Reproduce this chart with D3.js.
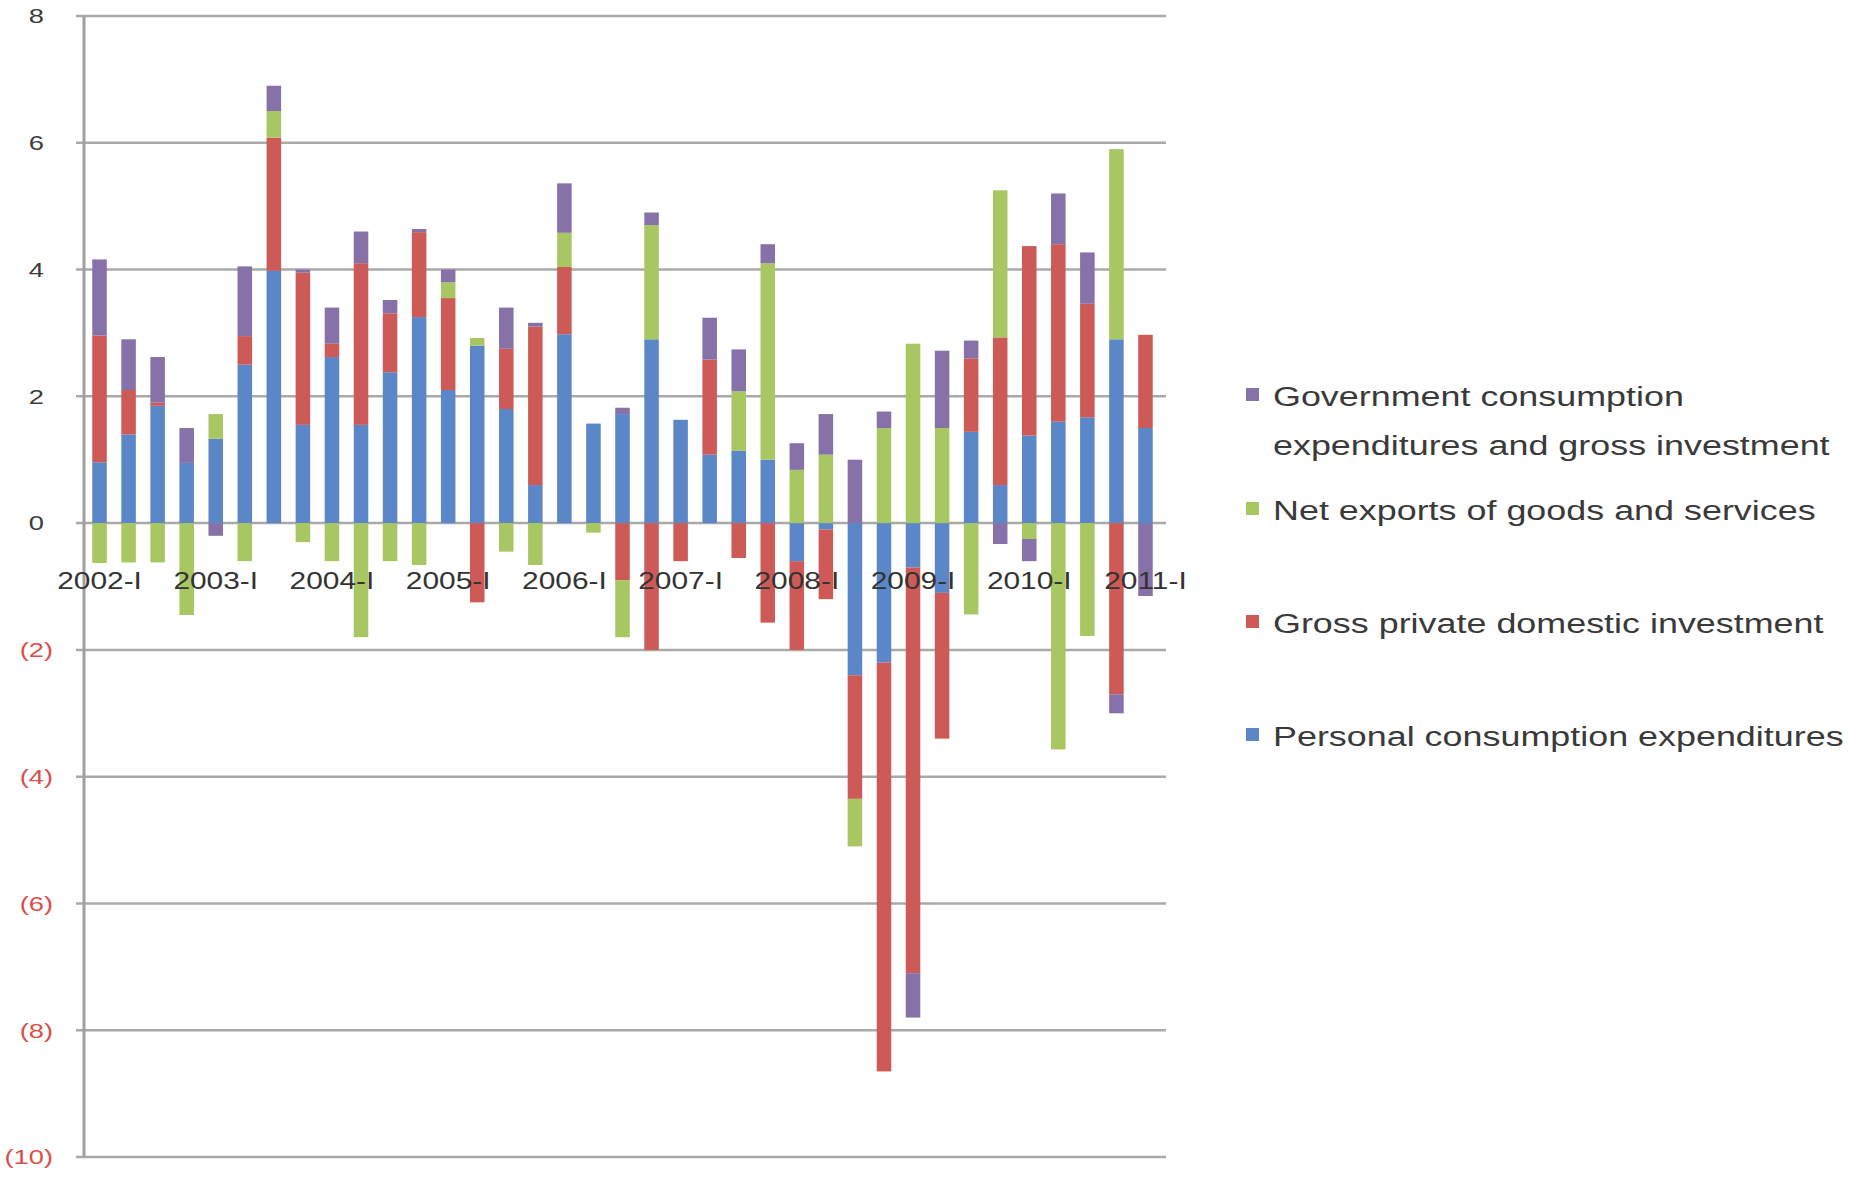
<!DOCTYPE html>
<html>
<head>
<meta charset="utf-8">
<script src="https://cdn.jsdelivr.net/npm/d3@7/dist/d3.min.js"></script>
<style>
  html, body { margin: 0; padding: 0; background: #ffffff; }
  svg { display: block; font-family: "Liberation Sans", Arial, sans-serif; }
</style>
</head>
<body>
<svg id="chart" width="1851" height="1181"></svg>
<script>
const quarters = [
  "2002-I","2002-II","2002-III","2002-IV",
  "2003-I","2003-II","2003-III","2003-IV",
  "2004-I","2004-II","2004-III","2004-IV",
  "2005-I","2005-II","2005-III","2005-IV",
  "2006-I","2006-II","2006-III","2006-IV",
  "2007-I","2007-II","2007-III","2007-IV",
  "2008-I","2008-II","2008-III","2008-IV",
  "2009-I","2009-II","2009-III","2009-IV",
  "2010-I","2010-II","2010-III","2010-IV",
  "2011-I"
];
const tickLabels = ["2002-I","2003-I","2004-I","2005-I","2006-I","2007-I","2008-I","2009-I","2010-I","2011-I"];
const yTicks = [8, 6, 4, 2, 0, -2, -4, -6, -8, -10];

const seriesNames = [
  "Personal consumption expenditures",
  "Gross private domestic investment",
  "Net exports of goods and services",
  "Government consumption expenditures and gross investment"
];
const personalConsumption = [0.96,1.4,1.85,0.95,1.33,2.5,3.98,1.55,2.62,1.55,2.38,3.25,2.1,2.8,1.8,0.6,2.98,1.57,1.72,2.9,1.63,1.08,1.14,1.0,-0.6,-0.1,-2.4,-2.2,-0.7,-1.1,1.44,0.6,1.38,1.6,1.67,2.9,1.5];
const grossPrivateInvestment = [2.0,0.7,0.05,0,0,0.45,2.1,2.4,0.21,2.55,0.93,1.34,1.45,-1.25,0.95,2.5,1.06,0,-0.9,-2.0,-0.6,1.5,-0.55,-1.57,-1.4,-1.1,-1.95,-6.45,-6.4,-2.3,1.16,2.33,2.99,2.8,1.79,-2.7,1.47];
const netExports = [-0.63,-0.62,-0.62,-1.45,0.39,-0.6,0.42,-0.3,-0.6,-1.8,-0.6,-0.66,0.25,0.12,-0.45,-0.66,0.54,-0.15,-0.9,1.8,0,0,0.94,3.1,0.84,1.08,-0.75,1.5,2.83,1.5,-1.44,2.32,-0.25,-3.57,-1.78,3.0,0];
const government = [1.2,0.8,0.72,0.55,-0.2,1.1,0.4,0.05,0.57,0.5,0.21,0.05,0.2,0,0.65,0.06,0.78,0,0.1,0.2,0,0.66,0.66,0.3,0.42,0.64,1.0,0.26,-0.7,1.22,0.28,-0.33,-0.35,0.8,0.81,-0.3,-1.15];

const colors = ["#5b86c8", "#cd5a57", "#a8c662", "#8672a8"];
const keys = ["pce", "gpdi", "netx", "gov"];
const table = quarters.map((q, i) => ({
  q,
  pce: personalConsumption[i],
  gpdi: grossPrivateInvestment[i],
  netx: netExports[i],
  gov: government[i]
}));

const svg = d3.select("#chart");
const STRETCH = 1.3;

const x = d3.scaleBand().domain(quarters).range([85, 1160]).paddingInner(0.5).paddingOuter(0.25);
const y = d3.scaleLinear().domain([-10, 8]).range([1157, 16]);

// gridlines
svg.append("g").selectAll("line").data(yTicks).join("line")
  .attr("x1", 76).attr("x2", 1166)
  .attr("y1", d => y(d)).attr("y2", d => y(d))
  .attr("stroke", "#a9a9a9").attr("stroke-width", 2.5);

// y axis line
svg.append("line").attr("x1", 84).attr("x2", 84)
  .attr("y1", y(8)).attr("y2", y(-10))
  .attr("stroke", "#a0a0a0").attr("stroke-width", 3);

// stacked bars
const stacked = d3.stack().keys(keys).offset(d3.stackOffsetDiverging)(table);
svg.append("g").selectAll("g").data(stacked).join("g")
  .attr("fill", (d, i) => colors[i])
  .selectAll("rect").data(d => d).join("rect")
  .attr("x", d => x(d.data.q))
  .attr("width", x.bandwidth())
  .attr("y", d => y(Math.max(d[0], d[1])))
  .attr("height", d => Math.abs(y(d[0]) - y(d[1])));

// y labels
const ylab = svg.append("g").attr("font-size", 21);
yTicks.forEach(v => {
  const neg = v < 0;
  const g = ylab.append("g").attr("transform", `translate(${neg ? 53 : 44},${y(v)}) scale(${STRETCH},1)`);
  g.append("text")
    .attr("text-anchor", "end")
    .attr("dy", "0.35em")
    .attr("fill", neg ? "#d9504c" : "#3c3c3c")
    .text(neg ? `(${Math.abs(v)})` : `${v}`);
});

// x labels
const xlab = svg.append("g").attr("font-size", 23);
tickLabels.forEach(t => {
  const cx = x(t) + x.bandwidth() / 2;
  xlab.append("g").attr("transform", `translate(${cx},${y(0) + 58}) scale(${STRETCH},1)`)
    .append("text")
    .attr("text-anchor", "middle")
    .attr("dy", "0.35em")
    .attr("fill", "#333333")
    .text(t);
});

// legend
const legendItems = [
  { color: colors[3], lines: ["Government consumption", "expenditures and gross investment"], y: 397 },
  { color: colors[2], lines: ["Net exports of goods and services"], y: 511 },
  { color: colors[1], lines: ["Gross private domestic investment"], y: 624 },
  { color: colors[0], lines: ["Personal consumption expenditures"], y: 737 }
];
const leg = svg.append("g").attr("font-size", 27);
legendItems.forEach(item => {
  leg.append("rect").attr("x", 1246).attr("y", item.y - 9).attr("width", 13).attr("height", 13).attr("fill", item.color);
  item.lines.forEach((ln, j) => {
    leg.append("g").attr("transform", `translate(1273,${item.y + j * 49}) scale(1.33,1)`)
      .append("text")
      .attr("dy", "0.35em")
      .attr("fill", "#3a3a3a")
      .text(ln);
  });
});
</script>
</body>
</html>
